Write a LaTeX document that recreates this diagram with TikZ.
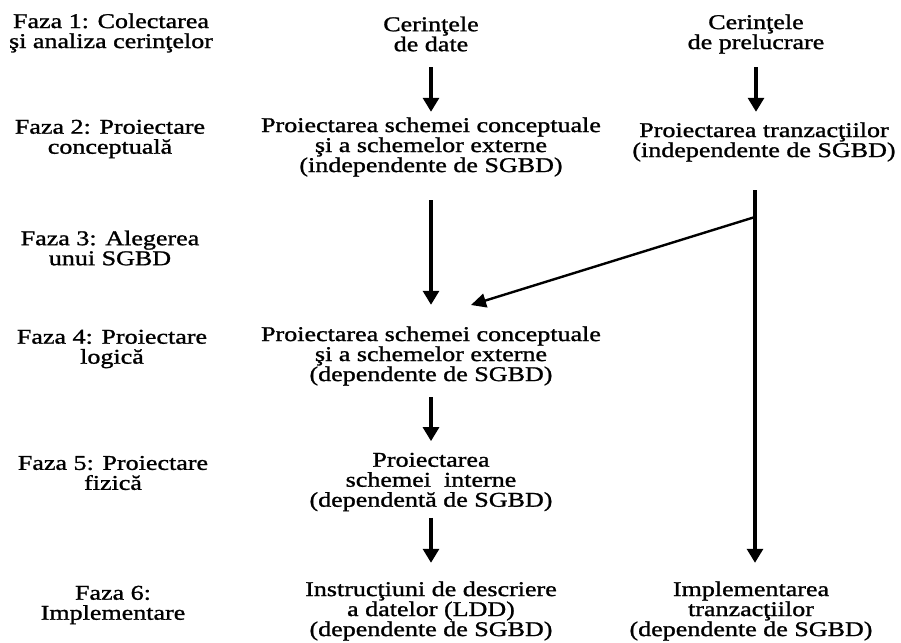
\documentclass[tikz,border=0pt]{standalone}
\usepackage{fontspec}
\setmainfont{Liberation Serif}[FakeStretch=1.24, FakeBold=1.2]
\usetikzlibrary{arrows.meta}
\begin{document}
\begin{tikzpicture}[x=1pt,y=-1pt,
  txt/.style={align=center, inner sep=0pt, font=\fontsize{21}{20}\selectfont},
  arr/.style={line width=3.1pt, -{Triangle[width=16pt,length=14pt]}},
  slim/.style={line width=2.4pt, -{Triangle[width=14pt,length=15pt]}}]
\useasboundingbox[fill=white] (0,0) rectangle (901,642);

% phase labels
\node[txt] (f1) at (111,33)  {Faza 1: Colectarea\\şi analiza cerinţelor};
\node[txt] (f2) at (110,139) {Faza 2: Proiectare\\conceptuală};
\node[txt] (f3) at (110,248) {Faza 3: Alegerea\\unui SGBD};
\node[txt] (f4) at (112,349) {Faza 4: Proiectare\\logică};
\node[txt] (f5) at (113,473) {Faza 5: Proiectare\\fizică};
\node[txt] (f6) at (113,605) {Faza 6:\\Implementare};

% data branch
\node[txt] (m1) at (431,34)  {Cerinţele\\de date};
\node[txt] (m2) at (431,147) {Proiectarea schemei conceptuale\\şi a schemelor externe\\(independente de SGBD)};
\node[txt] (m4) at (431,356) {Proiectarea schemei conceptuale\\şi a schemelor externe\\(dependente de SGBD)};
\node[txt] (m5) at (431,482) {Proiectarea\\schemei~ interne\\(dependentă de SGBD)};
\node[txt] (m6) at (431,611) {Instrucţiuni de descriere\\a datelor (LDD)\\(dependente de SGBD)};

% processing branch
\node[txt] (r1) at (756,34)  {Cerinţele\\de prelucrare};
\node[txt] (r2) at (764,142) {Proiectarea tranzacţiilor\\(independente de SGBD)};
\node[txt] (r6) at (751,611) {Implementarea\\tranzacţiilor\\(dependente de SGBD)};

\coordinate (spine) at (755,0);
\coordinate (fork)  at (755,217);
\coordinate (merge) at (471,305);

% connectors
\draw[arr, shorten <=15.5pt, shorten >=5.5pt]  (m1) -- (m2);
\draw[arr, shorten <=23.5pt, shorten >=21.5pt] (m2) -- (m4);
\draw[arr, shorten <=11.5pt, shorten >=11.5pt] (m4) -- (m5);
\draw[arr, shorten <=6.5pt,  shorten >=18.5pt] (m5) -- (m6);
\draw[arr, shorten <=13.5pt, shorten >=10.5pt] (r1) -- (r1 |- r2.north);
\draw[arr, shorten <=28.5pt, shorten >=18.5pt] (r2.south -| spine) -- (r6.north -| spine);
\draw[slim] (fork) -- (merge);
\end{tikzpicture}
\end{document}
